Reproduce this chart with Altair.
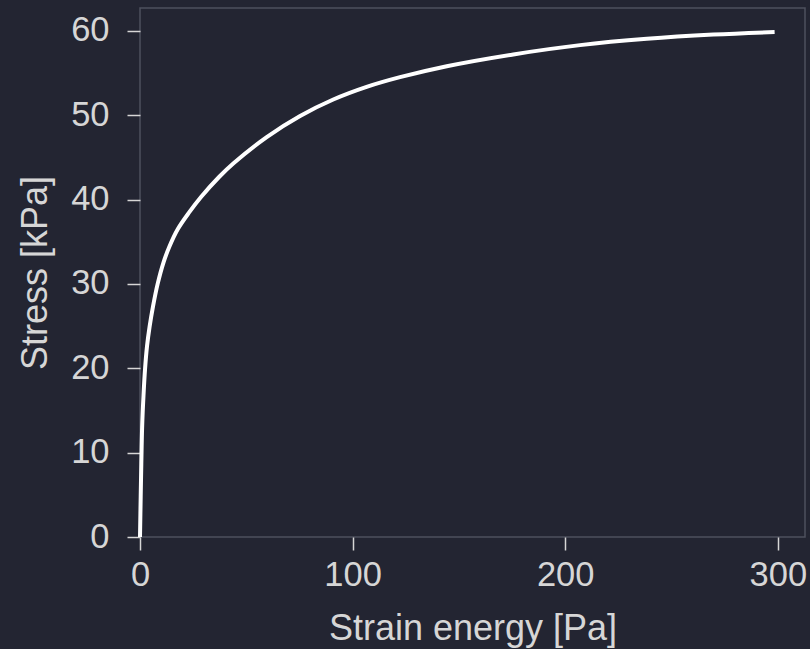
import altair as alt
import pandas as pd

# Strain energy density [Pa] and the corresponding stress [kPa]
strain_energy = [0, 0.33, 0.62, 1.0, 1.65, 2.4, 3.3, 4.5, 6.1, 8.3, 11.0,
                 13.8, 17.8, 23.2, 28.7, 37.3, 44.0, 59.6, 75.3, 90.9, 106.6,
                 122.3, 144.3, 175.6, 207.0, 238.4, 269.7, 298.5]
stress = [0, 4.8, 8.7, 13.0, 16.8, 20.0, 22.6, 24.9, 27.3, 30.0, 32.5,
          34.4, 36.5, 38.5, 40.3, 42.7, 44.3, 47.4, 49.9, 51.85, 53.35,
          54.5, 55.8, 57.2, 58.3, 59.05, 59.55, 59.85]

x_ticks = [0, 100, 200, 300]
y_ticks = [0, 10, 20, 30, 40, 50, 60]
x_max = 312.8
y_max = 62.7

df = pd.DataFrame({"energy": strain_energy, "stress": stress})

BG = "#232532"
SPINE = "#4e505e"
INK = "#d6d6d6"
FONT = "Liberation Sans"
TICK_FS = 34.5
TITLE_FS = 36

chart = (
    alt.Chart(df)
    .mark_line(color="white", strokeWidth=4, interpolate="catmull-rom", strokeCap="butt")
    .encode(
        x=alt.X(
            "energy:Q",
            scale=alt.Scale(domain=[0, x_max], nice=False, zero=False),
            axis=alt.Axis(
                title="Strain energy [Pa]",
                values=x_ticks,
                format="d",
                grid=False,
                domain=False,
                tickSize=13,
                tickWidth=1.5,
                tickColor=INK,
                labelColor=INK,
                labelFont=FONT,
                labelFontSize=TICK_FS,
                labelPadding=8,
                labelFlush=False,
                titleColor=INK,
                titleFont=FONT,
                titleFontSize=TITLE_FS,
                titleFontWeight="normal",
                titleX=332.5,
                titleY=102,
                titleAlign="center",
                titleBaseline="alphabetic",
            ),
        ),
        y=alt.Y(
            "stress:Q",
            scale=alt.Scale(domain=[0, y_max], nice=False, zero=False),
            axis=alt.Axis(
                title="Stress [kPa]",
                values=y_ticks,
                format="d",
                grid=False,
                domain=False,
                tickSize=13,
                tickWidth=1.5,
                tickColor=INK,
                labelColor=INK,
                labelFont=FONT,
                labelFontSize=TICK_FS,
                labelPadding=18,
                titleColor=INK,
                titleFont=FONT,
                titleFontSize=TITLE_FS,
                titleFontWeight="normal",
                titleAngle=-90,
                titleX=-105,
                titleY=264.5,
                titleAlign="center",
                titleBaseline="middle",
            ),
        ),
    )
    .properties(
        width=665,
        height=529,
        background=BG,
        padding={"left": 140, "top": 8, "right": 5, "bottom": 112},
        autosize=alt.AutoSizeParams(type="none"),
    )
    .configure_view(stroke=SPINE, strokeWidth=1.5, fill=BG)
)

chart.save("out.html", embed_options={"renderer": "svg", "actions": False})
